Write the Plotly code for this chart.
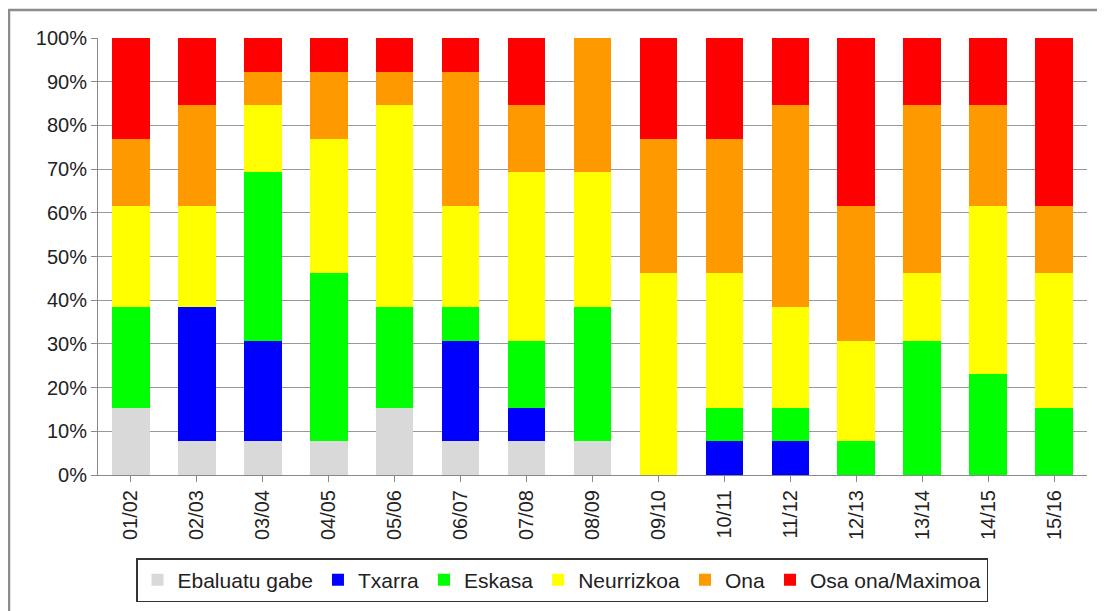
import plotly.graph_objects as go

categories = ["01/02", "02/03", "03/04", "04/05", "05/06", "06/07", "07/08", "08/09",
              "09/10", "10/11", "11/12", "12/13", "13/14", "14/15", "15/16"]

series_names = ["Ebaluatu gabe", "Txarra", "Eskasa", "Neurrizkoa", "Ona", "Osa ona/Maximoa"]

ebaluatu_gabe = [2, 1, 1, 1, 2, 1, 1, 1, 0, 0, 0, 0, 0, 0, 0]
txarra        = [0, 4, 3, 0, 0, 3, 1, 0, 0, 1, 1, 0, 0, 0, 0]
eskasa        = [3, 0, 5, 5, 3, 1, 2, 4, 0, 1, 1, 1, 4, 3, 2]
neurrizkoa    = [3, 3, 2, 4, 6, 3, 5, 4, 6, 4, 3, 3, 2, 5, 4]
ona           = [2, 3, 1, 2, 1, 4, 2, 4, 4, 4, 6, 4, 5, 3, 2]
osa_ona       = [3, 2, 1, 1, 1, 1, 2, 0, 3, 3, 2, 5, 2, 2, 5]

colors = ["#D9D9D9", "#0000FF", "#00FF00", "#FFFF00", "#FF9900", "#FF0000"]

all_series = [ebaluatu_gabe, txarra, eskasa, neurrizkoa, ona, osa_ona]

fig = go.Figure()
for name, vals, col in zip(series_names, all_series, colors):
    fig.add_trace(go.Bar(x=categories, y=vals, name=name, marker=dict(color=col, line=dict(width=0))))

# page body has an 8px margin; work in window pixel coordinates and shift
OFF = 8
WIN_W, WIN_H = 1105, 611
W, H = WIN_W - OFF, WIN_H - OFF
# plot area in window coordinates
PL, PR, PT, PB = 98, 1087, 38, 475
L, R, T, B = PL - OFF, W - (PR - OFF), PT - OFF, H - (PB - OFF)
pw, ph = W - L - R, H - T - B

def px_to_paper_x(px):
    return (px - OFF - L) / pw

def px_to_paper_y(py):
    return (H - B - (py - OFF)) / ph

font = "Liberation Sans, Arial, sans-serif"

fig.update_layout(
    width=W, height=H,
    barmode="stack", barnorm="percent",
    bargap=0.43,
    margin=dict(l=L, r=R, t=T, b=B, autoexpand=False),
    plot_bgcolor="white", paper_bgcolor="white",
    font=dict(family=font, size=20, color="#222222"),
    showlegend=True,
    legend=dict(
        orientation="h",
        x=px_to_paper_x(562), xanchor="center",
        y=px_to_paper_y(558), yanchor="top",
        bordercolor="#333333", borderwidth=1.5,
        bgcolor="white",
        font=dict(family=font, size=21, color="#222222"),
        traceorder="normal",
        itemwidth=30,
    ),
    xaxis=dict(
        type="category",
        tickangle=-90,
        ticks="outside", ticklen=6, tickcolor="#888888",
        showline=True, linecolor="#888888", linewidth=1,
        showgrid=False,
        tickfont=dict(family=font, size=20, color="#222222"),
    ),
    yaxis=dict(
        range=[0, 100],
        tickvals=[0, 10, 20, 30, 40, 50, 60, 70, 80, 90, 100],
        ticktext=["0%", "10%", "20%", "30%", "40%", "50%", "60%", "70%", "80%", "90%", "100%"],
        ticks="outside", ticklen=6, tickcolor="#888888",
        showline=True, linecolor="#888888", linewidth=1,
        showgrid=True, gridcolor="#999999", gridwidth=1,
        zeroline=False,
        tickfont=dict(family=font, size=20, color="#222222"),
    ),
    shapes=[
        dict(type="rect", xref="paper", yref="paper",
             x0=px_to_paper_x(9), x1=px_to_paper_x(1130),
             y0=px_to_paper_y(640), y1=px_to_paper_y(10),
             line=dict(color="#8C8C8C", width=2.5), fillcolor="rgba(0,0,0,0)", layer="below"),
    ],
)

fig.write_html("out.html")
